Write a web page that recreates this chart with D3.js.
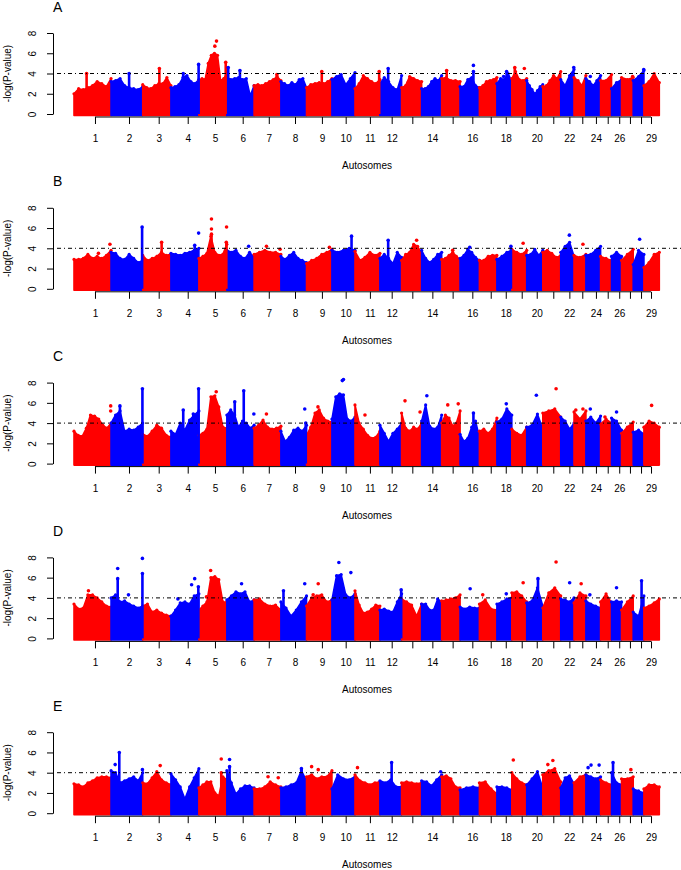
<!DOCTYPE html>
<html><head><meta charset="utf-8">
<script src="https://cdn.jsdelivr.net/npm/d3@7"></script>
<style>body{margin:0;background:#fff}svg{display:block}text{font-family:"Liberation Sans",Arial,sans-serif}</style>
</head><body>
<script>
// Chromosome lengths (Mb, approx.) for autosomes 1..29
const chromLen = [159,136,121,120,120,117,115,110,109,99,107,93,86,86,79,83,75,64,64,69,77,57,51,63,47,43,50,46,66];
// Mean SNP position within each chromosome (Mb) – where the axis ticks sit
const snpMeanMb = [90,77,68.5,72,69,68,63,60.5,66,59,64,50.5,46,46,47,52.5,48.5,38,42.5,43,45,37,35.5,43,30.6,33,36,33.6,30.5];
const tickLabels = ["1","2","3","4","5","6","7","8","9","10","11","12","","14","","16","","18","","20","","22","","24","","26","","","29"];
const yTicks = [0,2,4,6,8];
const panelLabels = ["A","B","C","D","E"];
const threshold = 4;
const chromColors = ["#ff0000","#0000ff"];

// Envelope heights (-log P) sampled evenly along each chromosome, per panel
const envA = [
[2.0,2.5,2.4,2.6,2.8,3.2,3.0,2.7,3.5],[3.2,3.3,3.5,2.8,2.6,2.5,2.4,2.7],[2.9,2.6,2.5,2.8,3.0,3.0,3.6,2.8],
[2.6,2.7,2.9,3.6,3.8,3.2,3.0,3.4],[3.3,3.5,3.4,5.0,5.8,6.0,5.8,3.3,3.5,4.0],[3.6,3.4,3.5,3.6,3.4,3.5,1.8,2.8],
[2.8,2.9,2.8,3.0,3.2,3.4,3.7,3.3],[3.2,3.0,2.8,3.1,2.9,3.4,3.5,2.6],[2.6,2.9,3.0,3.1,3.0,3.2,3.5],
[3.4,3.7,3.9,2.9,3.5,4.1],[2.5,3.0,3.8,3.5,3.2,3.0,3.4],[3.0,3.6,3.2,2.6,2.4,3.8],[2.6,2.8,3.7,3.5,3.3,3.2],
[2.5,2.5,2.7,3.2,3.5,3.3,3.8],[3.5,3.6,3.3,3.3,3.2],[2.7,2.7,3.4,3.6,2.8,2.6],[2.6,2.8,3.2,3.3,3.4,3.6],
[3.0,3.5,3.4,4.0,3.2],[3.5,4.2,3.4,3.3,3.5],[3.3,2.8,2.4,2.0,2.3,2.7,2.9],[2.7,2.8,3.3,3.8,3.5,4.2],
[3.4,2.8,3.8,4.4],[3.6,3.3,2.8,3.8],[3.5,3.2,2.8,3.3,3.8],[3.3,3.3,3.9],[2.5,3.1,3.4],[3.6,3.4,3.6],
[3.3,3.7,4.3],[2.8,3.2,4.0,3.1]];
const spikesA = [[1,0.34,4.0],[2,0.57,4.0],[3,0.59,4.5],[4,0.44,4.0],[4,0.99,4.9],[5,0.96,5.1],[6,0.05,4.6],[6,0.48,4.3],[7,0.85,3.9],[9,0.6,4.2],[11,0.97,4.2],[12,0.38,4.5],[15,0.27,4.3],[16,0.69,4.2],[18,0.65,4.2],[19,0.2,4.6]];
const dotsA = [[5,0.63,7.2],[5,0.57,6.7],[16,0.69,4.8],[19,0.84,4.5],[22,0.98,4.6],[24,0.3,3.7],[27,0.95,3.7],[28,0.98,4.4],[13,0.33,3.1],[18,0.45,3.7]];

const envB = [
[2.9,2.9,3.0,3.4,3.0,3.2,3.0,3.3,3.8],[3.6,3.5,3.0,2.9,3.4,3.0,2.6,2.8],[3.3,2.8,3.0,3.2,3.6,3.3,3.4],
[3.5,3.4,3.3,3.5,3.6,3.8,4.0],[3.0,3.2,3.5,5.2,3.6,3.3,3.4,4.4],[3.8,3.6,3.8,3.2,3.0,3.6,3.1],
[3.4,3.6,3.8,3.6,3.6,3.4],[3.2,2.9,3.3,3.6,3.0,2.8,2.6],[2.5,2.8,3.0,3.4,3.6,3.9],[3.8,3.6,3.8,4.0,3.8],
[3.7,2.8,3.1,3.6,3.3,3.5],[3.0,3.4,3.0,2.5,3.6,3.1],[2.8,3.4,3.6,4.4,4.2,3.5],[3.8,3.0,2.6,2.9,3.4,3.6],
[2.9,3.0,3.3,3.6,3.2,2.9],[3.0,3.3,3.9,3.6,3.1,2.8],[2.8,2.8,3.2,3.3,3.3],[2.9,3.2,3.6,3.8],[3.9,3.6,3.4,3.8],
[3.3,3.4,3.9,3.3,3.8],[3.6,3.8,3.5,3.1,3.3],[3.6,4.2,4.6,3.2],[3.3,3.1,3.4],[3.3,3.4,3.8,4.2],[3.2,3.0,2.8],
[3.2,3.6,3.2],[2.8,3.4,3.9],[2.4,3.8,3.4],[2.1,2.6,3.4,3.6]];
const spikesB = [[2,0.98,6.1],[3,0.67,4.6],[4,0.85,4.3],[5,0.45,5.4],[5,0.98,4.6],[10,0.85,5.2],[12,0.38,4.8],[18,0.94,4.2]];
const dotsB = [[1,0.97,4.4],[1,0.66,3.5],[4,0.99,5.5],[5,0.45,6.9],[5,0.45,5.9],[5,0.99,6.1],[6,0.8,4.2],[7,0.46,4.2],[7,0.97,3.9],[9,0.9,4.1],[13,0.75,4.8],[19,0.76,4.5],[22,0.65,5.3],[23,0.75,4.4],[28,0.6,4.9],[15,0.6,3.8],[16,0.5,4.1]];

const envC = [
[3.2,2.8,2.7,3.5,4.8,4.7,4.4,3.8,3.5,4.0],[4.0,4.8,5.2,3.2,3.4,3.3,3.6,4.0],[2.9,2.7,3.2,3.8,3.5,2.8,2.6],
[3.2,2.9,4.0,3.3,4.3,4.8,5.2],[2.8,3.0,3.4,6.6,6.7,5.6,3.6,3.5],[4.8,5.3,4.8,3.6,4.2,4.0,3.5,3.8],
[3.5,3.8,4.3,3.6,3.4,3.5,3.7],[3.2,2.2,2.6,3.3,3.5,3.2,3.8],[2.8,3.6,5.0,5.3,4.5,4.2,4.1],
[4.4,6.6,6.9,6.8,4.4,4.2,4.6],[5.8,4.0,3.4,2.8,2.5,2.6,3.2],[3.8,3.0,2.2,3.0,3.4,4.0],[5.0,3.5,3.2,3.6,3.4,4.0],
[4.2,5.8,3.7,3.4,3.6,4.8],[4.0,4.8,4.5,3.7,4.0,5.2],[2.9,2.2,2.5,3.6,4.2,2.6],[3.2,3.4,3.0,3.4,4.5],
[4.1,4.4,5.4,4.8],[3.4,3.0,2.8,3.6],[3.6,3.8,4.9,3.4],[5.0,5.2,5.4,4.6],[4.6,4.2,3.4,4.0],[5.1,4.4,5.2],
[4.2,4.6,4.0,4.7],[3.9,4.4,4.0],[4.5,4.2,3.3],[3.0,3.6,4.1],[3.1,3.3,2.9],[3.6,4.2,4.0,3.6]];
const spikesC = [[2,0.28,5.7],[2,0.99,7.4],[4,0.44,5.3],[4,0.8,4.9],[4,0.99,7.4],[6,0.29,6.1],[6,0.62,7.2],[8,0.97,4.0],[16,0.69,5.0]];
const dotsC = [[1,0.99,5.7],[1,0.99,5.2],[5,0.62,7.1],[6,0.99,4.9],[7,0.46,4.9],[8,0.93,5.4],[9,0.45,5.6],[10,0.45,8.2],[10,0.5,8.3],[11,0.4,4.8],[13,0.17,6.2],[13,0.92,5.1],[14,0.26,6.7],[15,0.33,5.8],[15,0.9,5.9],[18,0.63,5.9],[20,0.6,6.75],[21,0.74,7.4],[23,0.15,5.3],[23,0.75,5.4],[24,0.3,5.4],[25,0.4,4.6],[26,0.5,5.1],[29,0.5,5.75]];

const envD = [
[3.4,2.9,3.0,4.3,4.3,4.0,3.6,3.2,3.1],[4.0,4.3,3.6,3.7,3.4,3.2,3.0,3.2],[3.2,3.4,2.6,2.8,2.5,2.3,2.2],
[2.2,2.8,3.5,3.6,3.4,4.2,4.4],[2.8,3.2,3.6,6.0,6.1,5.8,3.6,3.6],[3.8,4.2,4.6,4.4,4.6,3.6,3.8],
[3.8,3.9,3.4,3.2,3.3,2.8],[3.6,3.0,2.2,2.8,3.6,4.2],[3.2,4.0,4.2,4.3,3.6,3.8],[3.8,6.2,6.3,4.3,4.0,4.4],
[4.7,3.3,2.5,2.6,2.9,3.3,3.2],[2.8,2.9,2.7,2.6,3.6,4.4],[3.9,3.6,3.3,2.2,3.4],[3.4,3.4,2.8,2.8,3.9,3.6],
[3.7,3.8,3.9,4.0,4.3],[3.1,2.9,3.1,3.0,3.0],[3.4,3.8,2.9,2.8],[3.4,3.6,3.9,4.0],[4.5,4.6,4.2,3.6],
[3.5,3.7,5.0,3.2],[3.0,4.5,5.0,4.2],[3.9,3.8,3.6,4.0],[3.5,4.5,4.2],[3.7,3.4,3.2,3.0],[3.6,4.4,3.5],
[3.6,3.7,3.6],[2.8,3.6,4.2],[2.6,2.2,4.2],[3.0,3.2,3.5,3.9]];
const spikesD = [[2,0.21,5.9],[2,0.99,6.4],[4,0.98,5.1],[8,0.1,4.7],[12,0.98,4.8],[20,0.7,5.9],[28,0.78,5.7]];
const dotsD = [[1,0.39,4.7],[2,0.21,6.9],[2,0.99,7.9],[2,0.55,4.3],[4,0.25,3.9],[4,0.74,5.3],[4,0.85,5.9],[5,0.27,4.1],[5,0.42,6.7],[6,0.54,5.4],[8,0.93,5.4],[9,0.26,4.3],[9,0.46,5.4],[10,0.3,7.5],[10,0.82,6.5],[16,0.52,4.9],[17,0.19,4.3],[18,0.63,4.4],[19,0.76,5.5],[21,0.74,7.55],[22,0.67,5.5],[23,0.6,5.4],[24,0.27,4.3],[26,0.5,5.0]];

const envE = [
[2.9,2.8,2.6,3.0,3.2,3.5,3.6,3.6,3.5],[4.2,4.0,3.0,3.2,3.4,3.6,3.2,4.0],[3.0,2.9,3.5,4.1,3.3,3.0,2.8],
[3.9,3.3,2.6,1.4,2.6,3.5,4.4],[2.5,2.8,3.1,3.1,2.0,1.7,3.6,3.3],[4.2,3.0,1.9,2.4,2.7,2.7,2.5],
[2.4,2.4,2.6,3.1,2.8,2.6],[2.5,2.6,2.8,3.0,4.2,3.2],[3.6,3.8,3.4,3.6,3.6,4.2],[2.4,3.8,3.4,3.3,3.6],
[3.8,3.2,3.0,2.8,3.0,3.1],[3.2,3.0,3.3,2.6,2.6],[3.0,3.1,3.0,2.9,3.0],[3.2,3.1,2.7,3.3,3.8],
[3.6,3.7,3.4,2.6,2.5],[2.3,2.5,2.6,2.5],[3.0,3.1,2.4,1.9],[2.6,2.6,2.5,2.3],[4.0,3.4,3.0,2.8],
[2.8,3.4,4.1,2.5],[3.8,4.2,4.4,3.1],[2.5,3.5,3.7,2.9],[3.0,3.6,3.8],[3.8,3.6,3.4,3.6],[3.3,3.0,2.8],
[4.0,3.0,2.8],[3.4,3.4,3.6],[2.4,2.2,2.0],[2.4,2.8,2.8,2.6]];
const spikesE = [[2,0.26,6.0],[5,0.8,4.0],[6,0.1,4.6],[8,0.8,4.4],[12,0.54,5.0],[26,0.15,5.0]];
const dotsE = [[2,0.13,4.8],[2,0.99,4.3],[3,0.62,4.7],[5,0.8,5.35],[6,0.1,5.3],[7,0.52,3.6],[7,0.9,3.5],[9,0.2,4.6],[9,0.46,4.3],[11,0.1,4.5],[14,0.95,4.1],[19,0.1,5.25],[21,0.28,4.8],[21,0.56,5.2],[24,0.15,4.5],[24,0.35,4.75],[24,0.9,4.75],[27,0.8,4.3]];

// ---------- drawing ----------
const W = 681, H = 870;
const svg = d3.select("body").append("svg").attr("width", W).attr("height", H);
const starts = []; let acc = 0;
chromLen.forEach(l => { starts.push(acc); acc += l; });
const total = acc;
const x = d3.scaleLinear().domain([0, total]).range([74, 659.3]);
const tickPos = snpMeanMb.map((m, i) => starts[i] + m);
const pos = (c, f) => starts[c - 1] + f * chromLen[c - 1];
const col = c => chromColors[(c - 1) % 2];

const panels = [
  {env: envA, spikes: spikesA, dots: dotsA},
  {env: envB, spikes: spikesB, dots: dotsB},
  {env: envC, spikes: spikesC, dots: dotsC},
  {env: envD, spikes: spikesD, dots: dotsD},
  {env: envE, spikes: spikesE, dots: dotsE}
];

panels.forEach((p, pi) => {
  const oy = pi * 174.8;
  const y = d3.scaleLinear().domain([0, 8]).range([114 + oy, 33 + oy]);
  const g = svg.append("g");

  // data marks
  p.env.forEach((vals, ci) => {
    const c = ci + 1, n = vals.length;
    const pts = vals.map((v, i) => ({p: starts[ci] + chromLen[ci] * i / (n - 1), v}));
    const area = d3.area().x(d => x(d.p)).y0(y(0) + 1.5).y1(d => y(d.v));
    g.append("path").attr("d", area(pts)).attr("fill", col(c)).attr("stroke", col(c)).attr("stroke-width", 1.6).attr("stroke-linejoin", "round");
    g.selectAll(null).data(pts).enter().append("circle")
      .attr("cx", d => x(d.p)).attr("cy", d => y(d.v)).attr("r", 1.6).attr("fill", col(c));
  });
  g.selectAll(null).data(p.spikes).enter().append("line")
    .attr("x1", d => x(pos(d[0], d[1]))).attr("x2", d => x(pos(d[0], d[1])))
    .attr("y1", y(0)).attr("y2", d => y(d[2]))
    .attr("stroke", d => col(d[0])).attr("stroke-width", 2.6);
  g.selectAll(null).data(p.spikes.concat(p.dots)).enter().append("circle")
    .attr("cx", d => x(pos(d[0], d[1]))).attr("cy", d => y(d[2])).attr("r", 1.8)
    .attr("fill", d => col(d[0]));

  // threshold line
  g.append("line").attr("x1", 53).attr("x2", 681).attr("y1", y(threshold)).attr("y2", y(threshold))
    .attr("stroke", "#000").attr("stroke-width", 1).attr("stroke-dasharray", "1,3,4,3");

  // y axis
  const ya = g.append("g").attr("transform", "translate(53,0)")
    .call(d3.axisLeft(y).tickValues(yTicks).tickSize(6).tickSizeOuter(0).tickFormat(d3.format("d")));
  ya.select(".domain").attr("stroke", "#000");
  ya.selectAll(".tick line").attr("stroke", "#000");
  ya.selectAll(".tick text").attr("transform", "rotate(-90)").attr("x", 0).attr("y", -17).attr("dy", 0)
    .attr("text-anchor", "middle").attr("font-size", 10).attr("fill", "#000");

  // x axis
  const xa = g.append("g").attr("transform", `translate(0,${117 + oy})`)
    .call(d3.axisBottom(x).tickValues(tickPos).tickSize(7).tickSizeOuter(0).tickFormat((d, i) => tickLabels[i]));
  xa.select(".domain").remove();
  xa.append("line").attr("x1", x(tickPos[0])).attr("x2", x(tickPos[tickPos.length - 1])).attr("stroke", "#000");
  xa.selectAll(".tick line").attr("stroke", "#000");
  xa.selectAll(".tick text").attr("y", 18).attr("font-size", 10).attr("fill", "#000");

  // titles
  g.append("text").attr("x", 367).attr("y", 169 + oy).attr("text-anchor", "middle").attr("font-size", 10).text("Autosomes");
  g.append("text").attr("transform", `translate(11,${73.5 + oy}) rotate(-90)`).attr("text-anchor", "middle").attr("font-size", 10).text("-log(P-value)");
  g.append("text").attr("x", 53).attr("y", 11.5 + oy).attr("font-size", 14).text(panelLabels[pi]);
});
</script>
</body></html>
